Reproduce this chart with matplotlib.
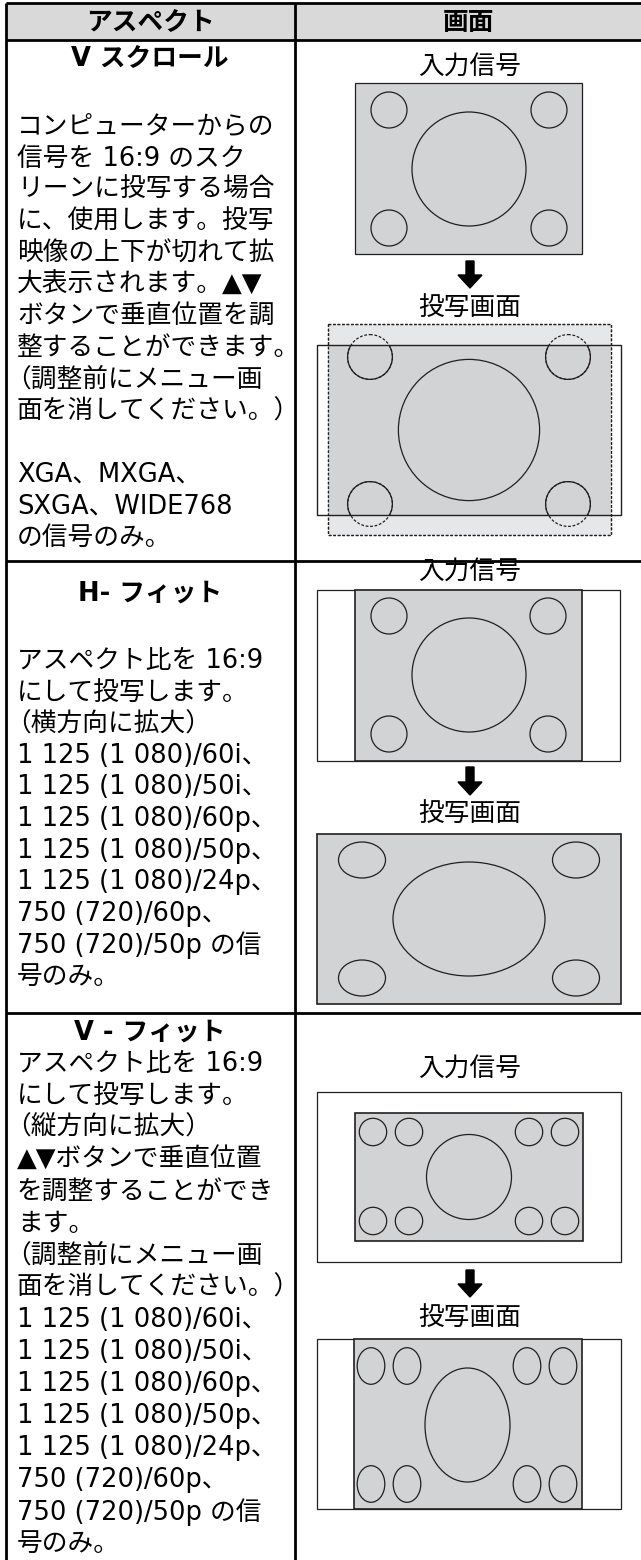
import matplotlib.pyplot as plt
from matplotlib.patches import Rectangle, Ellipse, FancyArrow

# Latin glyphs from DejaVu (wide, like the original), kana/kanji from Noto CJK
plt.rcParams['font.family'] = ['DejaVu Sans', 'Noto Sans CJK JP']

# table text
header_labels = ["アスペクト", "画面"]
row_titles = ["V スクロール", "H- フィット", "V - フィット"]
row1_lines = ["コンピューターからの", "信号を 16:9 のスク", "リーンに投写する場合",
              "に、使用します。投写", "映像の上下が切れて拡", "大表示されます。▲▼",
              "ボタンで垂直位置を調", "整することができます。", "（調整前にメニュー画",
              "面を消してください。）", "", "XGA、MXGA、", "SXGA、WIDE768", "の信号のみ。"]
row2_lines = ["アスペクト比を 16:9", "にして投写します。", "（横方向に拡大）",
              "1 125 (1 080)/60i、", "1 125 (1 080)/50i、", "1 125 (1 080)/60p、",
              "1 125 (1 080)/50p、", "1 125 (1 080)/24p、", "750 (720)/60p、",
              "750 (720)/50p の信", "号のみ。"]
row3_lines = ["アスペクト比を 16:9", "にして投写します。", "（縦方向に拡大）",
              "▲▼ボタンで垂直位置", "を調整することができ", "ます。",
              "（調整前にメニュー画", "面を消してください。）",
              "1 125 (1 080)/60i、", "1 125 (1 080)/50i、", "1 125 (1 080)/60p、",
              "1 125 (1 080)/50p、", "1 125 (1 080)/24p、", "750 (720)/60p、",
              "750 (720)/50p の信", "号のみ。"]
input_label = "入力信号"
output_label = "投写画面"

GRAY = "#d1d3d4"
LIGHT = "#e6e7e8"
EDGE = "#231f20"
FS = 18.5
DASH = (0, (2.2, 1.4))

fig = plt.figure(figsize=(6.41, 15.6), dpi=100)
ax = fig.add_axes([0, 0, 1, 1])
ax.set_xlim(0, 641)
ax.set_ylim(1560, 0)
ax.axis("off")

# table frame
ax.add_patch(Rectangle((6, 3), 650, 37, facecolor="#d9d9d9", edgecolor="none"))
for y in [3, 40, 561, 1013]:
    ax.plot([6, 660], [y, y], color="black", lw=2.0, solid_capstyle="butt")
for x in [6, 295]:
    ax.plot([x, x], [3, 1565], color="black", lw=2.0, solid_capstyle="butt")

ax.text(150, 23, header_labels[0], ha="center", va="center", fontsize=FS, fontweight="bold")
ax.text(469, 23, header_labels[1], ha="center", va="center", fontsize=FS, fontweight="bold")

# left column
title_y = [59, 594, 1033]
first_y = [127, 661, 1064]
step = [31.6, 31.6, 32.0]
for title, ty, lines, y0, dy in zip(row_titles, title_y, [row1_lines, row2_lines, row3_lines], first_y, step):
    ax.text(150, ty, title, ha="center", va="center", fontsize=FS, fontweight="bold")
    for i, line in enumerate(lines):
        x = 5 if line.startswith("（") else 17  # full-width paren has its ink on the right
        ax.text(x, y0 + i * dy, line, ha="left", va="center", fontsize=FS)


def rect(x0, y0, x1, y1, fc, lw=0.9, ls="-", ec=EDGE, z=2):
    p = Rectangle((x0, y0), x1 - x0, y1 - y0, facecolor=fc, edgecolor=ec, lw=lw, ls=ls, zorder=z)
    ax.add_patch(p)
    return p


def oval(cx, cy, rx, ry, ls="-", clip=None):
    e = Ellipse((cx, cy), 2 * rx, 2 * ry, facecolor="none", edgecolor=EDGE, lw=0.9, ls=ls, zorder=4)
    ax.add_patch(e)
    if clip is not None:
        e.set_clip_path(clip)
    return e


def arrow(x, y0, y1):
    ax.add_patch(FancyArrow(x, y0, 0, y1 - y0, width=8, head_width=24, head_length=13,
                            length_includes_head=True, color="black", zorder=5))


def label(y, s):
    ax.text(470, y, s, ha="center", va="center", fontsize=FS, zorder=6)


# V scroll
label(68, input_label)
rect(355, 83, 582, 254, GRAY)
oval(469, 169, 57, 57)
for cx in [389, 549]:
    for cy in [110, 228]:
        oval(cx, cy, 18, 18)
arrow(470, 261, 288)
label(308, output_label)
rect(328, 324, 611, 535, LIGHT, ls=DASH, z=1)
rect(328, 345, 611, 515, GRAY, lw=0, ec="none", z=2)
frame = rect(317, 345, 621, 515, "none", lw=1.0, z=3)
rect(328, 324, 611, 535, "none", ls=DASH, z=3)
oval(469, 430, 70.6, 70.6)
for cx in [370, 568]:
    for cy in [357, 504]:
        oval(cx, cy, 22.4, 22.4, ls=DASH)
        oval(cx, cy, 22.4, 22.4, clip=frame)

# H fit
label(573, input_label)
rect(317, 590, 620, 761, "white")
rect(355, 590, 582, 761, GRAY, lw=1.2)
oval(469, 675, 57, 57)
for cx in [389, 548]:
    for cy in [616, 734]:
        oval(cx, cy, 18, 18)
arrow(470, 767, 795)
label(814, output_label)
rect(317, 834, 621, 1004, GRAY, lw=1.2)
oval(469, 919, 76, 57)
for cx in [362, 576]:
    for cy in [860, 978]:
        oval(cx, cy, 23.5, 18)

# V fit
label(1070, input_label)
rect(317, 1092, 621, 1262, "white")
rect(355, 1113, 583, 1241, GRAY, lw=1.2)
oval(469, 1177, 42.5, 42.5)
for cx in [373, 409, 529, 565]:
    for cy in [1132, 1221]:
        oval(cx, cy, 13.7, 13.7)
arrow(470, 1270, 1297)
label(1318, output_label)
rect(317, 1339, 621, 1509, "white")
rect(354, 1339, 582, 1509, GRAY, lw=1.2)
oval(467.5, 1425, 42.5, 57)
for cx in [371, 407, 527, 563]:
    for cy in [1366, 1484]:
        oval(cx, cy, 13.8, 18.3)

fig.savefig("out.png", dpi=100)
plt.close(fig)
